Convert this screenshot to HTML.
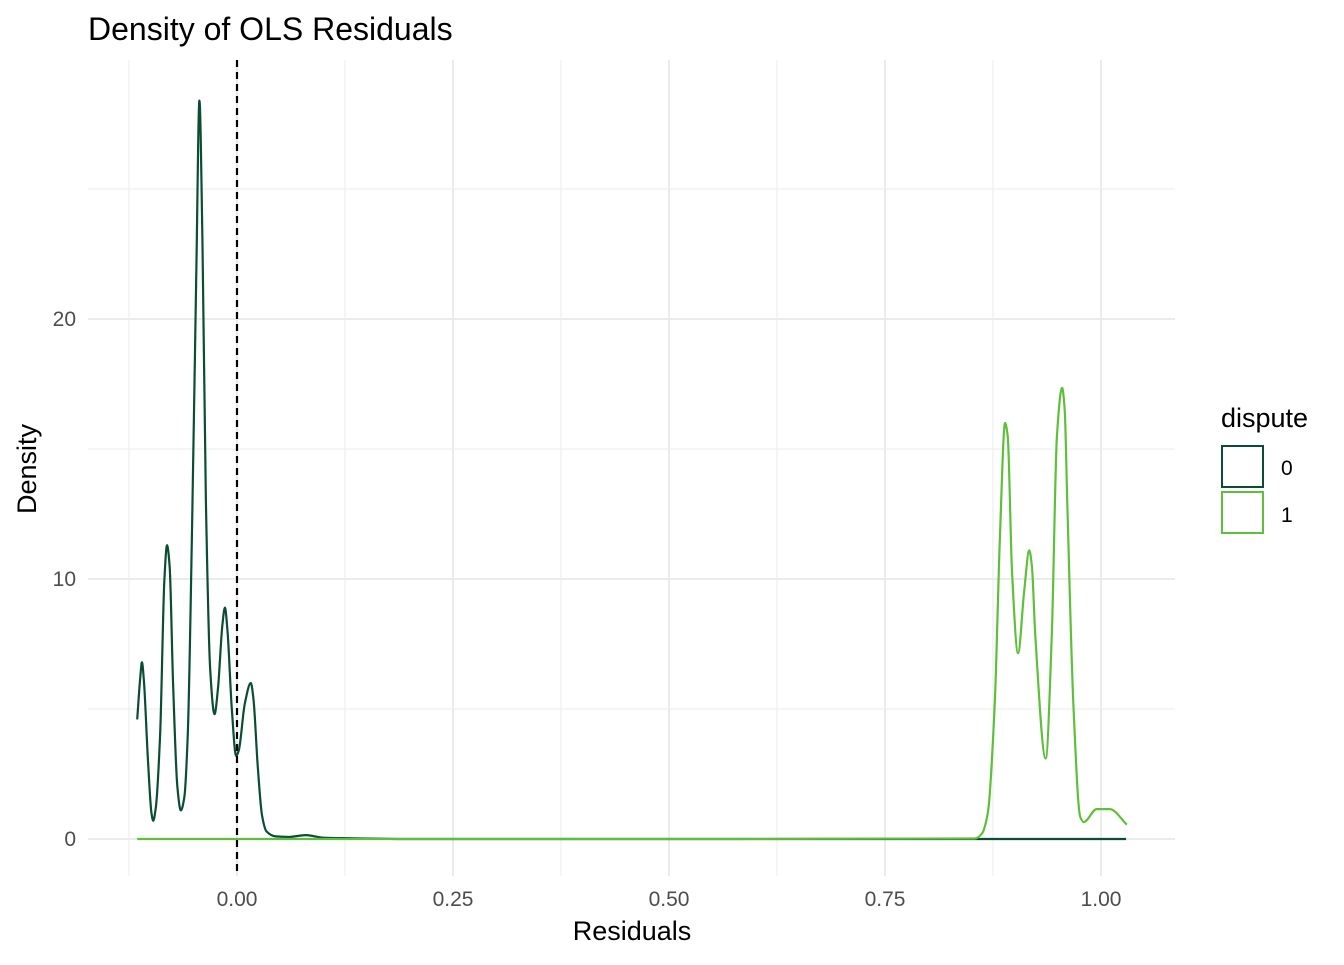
<!DOCTYPE html>
<html><head><meta charset="utf-8"><style>
body{margin:0;background:#fff;}
svg text{font-family:"Liberation Sans",Arial,sans-serif;}
</style></head><body>
<svg id="chart" width="1344" height="960" viewBox="0 0 1344 960">
<rect width="1344" height="960" fill="#fff"/>
<g id="grid"></g>
<g id="marks"></g>
<g id="axes"></g>
<text x="88" y="40" font-size="32" fill="#000">Density of OLS Residuals</text>
<text x="632" y="940" font-size="27" text-anchor="middle" fill="#000">Residuals</text>
<text transform="translate(36,469) rotate(-90)" font-size="27" text-anchor="middle" fill="#000">Density</text>
<g>
<text x="1221" y="427" font-size="27" fill="#000">dispute</text>
<rect x="1222" y="446" width="41" height="41" fill="none" stroke="#0b4d33" stroke-width="2"/>
<text x="1281" y="475" font-size="21" fill="#000">0</text>
<rect x="1222" y="492" width="41" height="41" fill="none" stroke="#5ebf3a" stroke-width="2"/>
<text x="1281" y="522" font-size="21" fill="#000">1</text>
</g>
</svg>
<script>
const xTicks=[0,0.25,0.5,0.75,1];
const xTickLabels=["0.00","0.25","0.50","0.75","1.00"];
const xMinor=[-0.125,0.125,0.375,0.625,0.875];
const yTicks=[0,10,20];
const yMinor=[5,15,25];
const vline=0;
const x0Res=[-0.1155,-0.112,-0.110,-0.108,-0.103,-0.099,-0.097,-0.094,-0.089,-0.084,-0.081,-0.078,-0.074,-0.069,-0.065,-0.061,-0.057,-0.052,-0.047,-0.0435,-0.040,-0.036,-0.031,-0.026,-0.022,-0.017,-0.014,-0.011,-0.006,-0.001,0.002,0.009,0.016,0.019,0.024,0.029,0.034,0.045,0.06,0.08,0.1,0.13,0.2,1.029];
const y0Dens=[4.6,6.2,6.8,6.2,3.0,1.0,0.7,1.2,4.0,10.0,11.3,10.5,6,2,1.1,1.6,4,12,22,28.4,23,13,6.5,4.8,5.8,8.2,8.9,8,5,3.2,3.4,5.2,6.0,5.4,2.8,0.9,0.3,0.1,0.08,0.15,0.05,0.03,0,0];
const x1Res=[-0.1155,0.5,0.854,0.862,0.869,0.877,0.883,0.889,0.892,0.897,0.904,0.911,0.917,0.920,0.924,0.936,0.943,0.949,0.955,0.958,0.961,0.968,0.976,0.980,0.995,1.010,1.030];
const y1Dens=[0,0,0.02,0.2,1.0,5.2,11.6,16.0,15.5,10.3,7.15,9.5,11.1,10.5,7.8,3.1,7.8,15.5,17.35,16.5,12.9,5.2,0.85,0.65,1.15,1.15,0.55];

const X=v=>237+v*864, Y=v=>839-v*26;
const ns="http://www.w3.org/2000/svg";
function mk(tag,attrs,parent){const e=document.createElementNS(ns,tag);for(const k in attrs)e.setAttribute(k,attrs[k]);parent.appendChild(e);return e;}
const grid=document.getElementById('grid'),marks=document.getElementById('marks'),axes=document.getElementById('axes');
const L=88,R=1175,T=60,B=876;
xMinor.forEach(v=>{const l=mk('line',{x1:X(v),x2:X(v),y1:T,y2:B,stroke:'#ebebeb','stroke-width':1},grid);

});
yMinor.forEach(v=>{const l=mk('line',{x1:L,x2:R,y1:Y(v),y2:Y(v),stroke:'#ebebeb','stroke-width':1},grid);

});
xTicks.forEach((v,i)=>{const l=mk('line',{x1:X(v),x2:X(v),y1:T,y2:B,stroke:'#ebebeb','stroke-width':2},grid);


const t=mk('text',{x:X(v),y:906,'font-size':21,'text-anchor':'middle',fill:'#4d4d4d'},axes);t.textContent=xTickLabels[i];

});
yTicks.forEach(v=>{const l=mk('line',{x1:L,x2:R,y1:Y(v),y2:Y(v),stroke:'#ebebeb','stroke-width':2},grid);


const t=mk('text',{x:76,y:Y(v)+7,'font-size':21,'text-anchor':'end',fill:'#4d4d4d'},axes);t.textContent=String(v);

});
// monotone cubic (Fritsch-Carlson) in x
function path(xs,ys){const p=xs.map((x,i)=>[X(x),Y(ys[i])]);const n=p.length;
const dl=[],m=[];for(let i=0;i<n-1;i++)dl.push((p[i+1][1]-p[i][1])/(p[i+1][0]-p[i][0]));
m[0]=dl[0];m[n-1]=dl[n-2];
for(let i=1;i<n-1;i++){if(dl[i-1]*dl[i]<=0)m[i]=0;else{const h0=p[i][0]-p[i-1][0],h1=p[i+1][0]-p[i][0];
const w1=2*h1+h0,w2=h1+2*h0;m[i]=(w1+w2)/(w1/dl[i-1]+w2/dl[i]);}}
let d=`M${p[0][0]},${p[0][1]}`;
for(let i=0;i<n-1;i++){const h=(p[i+1][0]-p[i][0])/3;
d+=` C${p[i][0]+h},${p[i][1]+m[i]*h} ${p[i+1][0]-h},${p[i+1][1]-m[i+1]*h} ${p[i+1][0]},${p[i+1][1]}`;}return d;}
const p0=mk('path',{d:path(x0Res,y0Dens),fill:'none',stroke:'#0b4d33','stroke-width':2.2,'stroke-linejoin':'round'},marks);


const p1=mk('path',{d:path(x1Res,y1Dens),fill:'none',stroke:'#5ebf3a','stroke-width':2.2,'stroke-linejoin':'round'},marks);


const vl=mk('line',{x1:X(vline),x2:X(vline),y1:T,y2:B,stroke:'#000','stroke-width':2.2,'stroke-dasharray':'7,5'},marks);


</script>
</body></html>
